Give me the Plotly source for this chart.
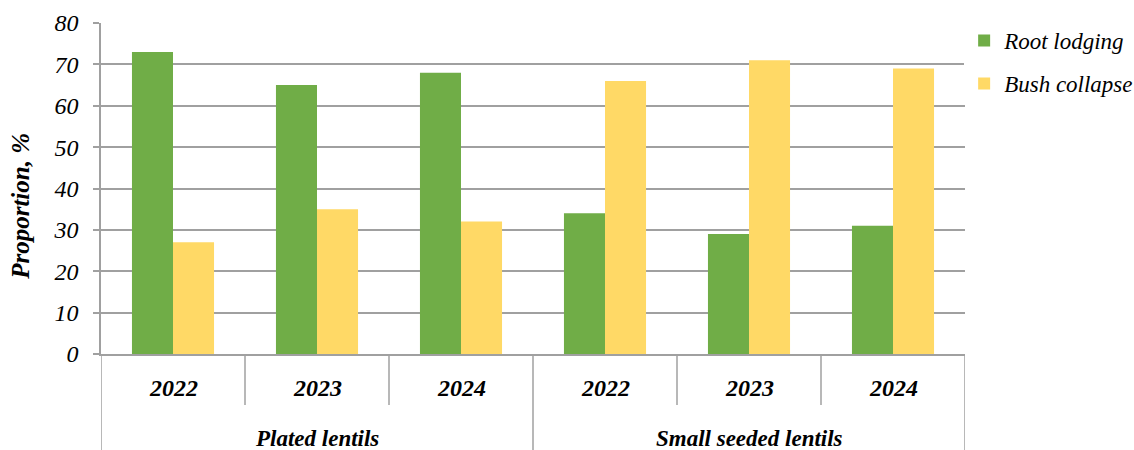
import plotly.graph_objects as go

groups = ["Plated lentils", "Small seeded lentils"]
years = ["2022", "2023", "2024"]
root_lodging = [73, 65, 68, 34, 29, 31]
bush_collapse = [27, 35, 32, 66, 71, 69]

series_names = ["Root lodging", "Bush collapse"]
colors = ["#70AD47", "#FFD966"]

FONT = "Liberation Serif"
n = len(groups) * len(years)
xs = list(range(n))

fig = go.Figure()
for i, (name, vals) in enumerate(zip(series_names, [root_lodging, bush_collapse])):
    fig.add_trace(go.Bar(x=xs, y=vals, name=name, marker=dict(color=colors[i], line=dict(width=0)),
                         legendgroup=name))

grid_col = "#A0A0A0"
# year labels
for gi, g in enumerate(groups):
    for yi, yr in enumerate(years):
        k = gi * len(years) + yi
        fig.add_annotation(x=k, y=-0.103, xref="x", yref="paper", text=f"<b><i>{yr}</i></b>",
                           showarrow=False, font=dict(family=FONT, size=24, color="#000"),
                           xanchor="center", yanchor="middle")
    cx = gi * len(years) + (len(years) - 1) / 2
    fig.add_annotation(x=cx, y=-0.254, xref="x", yref="paper", text=f"<b><i>{g}</i></b>",
                       showarrow=False, font=dict(family=FONT, size=23, color="#000"),
                       xanchor="center", yanchor="middle")

# separators
for b in range(n + 1):
    xb = b - 0.5
    is_group = (b % len(years) == 0)
    fig.add_shape(type="line", xref="x", yref="paper", x0=xb, x1=xb, y0=0,
                  y1=-0.29 if is_group else -0.154,
                  line=dict(color=grid_col, width=1.5))

# y title
fig.add_annotation(x=-0.094, y=0.447, xref="paper", yref="paper", text="<b><i>Proportion, %</i></b>",
                   textangle=-90, showarrow=False, font=dict(family=FONT, size=25, color="#000"),
                   xanchor="center", yanchor="middle")

fig.update_layout(
    width=1134, height=450,
    font=dict(family=FONT, color="#000"),
    margin=dict(l=101, r=169, t=23, b=96, autoexpand=False),
    plot_bgcolor="white", paper_bgcolor="white",
    barmode="group", bargap=0.43, bargroupgap=0,
    showlegend=True,
    legend=dict(x=0.999, y=1.012, xanchor="left", yanchor="top",
                font=dict(family=FONT, size=23, color="#000", style="italic"),
                tracegroupgap=10, traceorder="grouped", itemsizing="constant"),
    xaxis=dict(range=[-0.5, n - 0.5], showticklabels=False, showgrid=False, zeroline=False,
               showline=True, linecolor=grid_col, linewidth=1.5, ticks=""),
    yaxis=dict(range=[0, 80], dtick=10, showgrid=True, gridcolor=grid_col, gridwidth=1.5,
               zeroline=False, showline=True, linecolor=grid_col, linewidth=1.5,
               ticks="outside", ticklen=6, tickcolor=grid_col, tickwidth=1.5,
               ticklabelstandoff=10,
               tickfont=dict(family=FONT, size=24, color="#000", style="italic")),
)

fig.write_html("out.html")
